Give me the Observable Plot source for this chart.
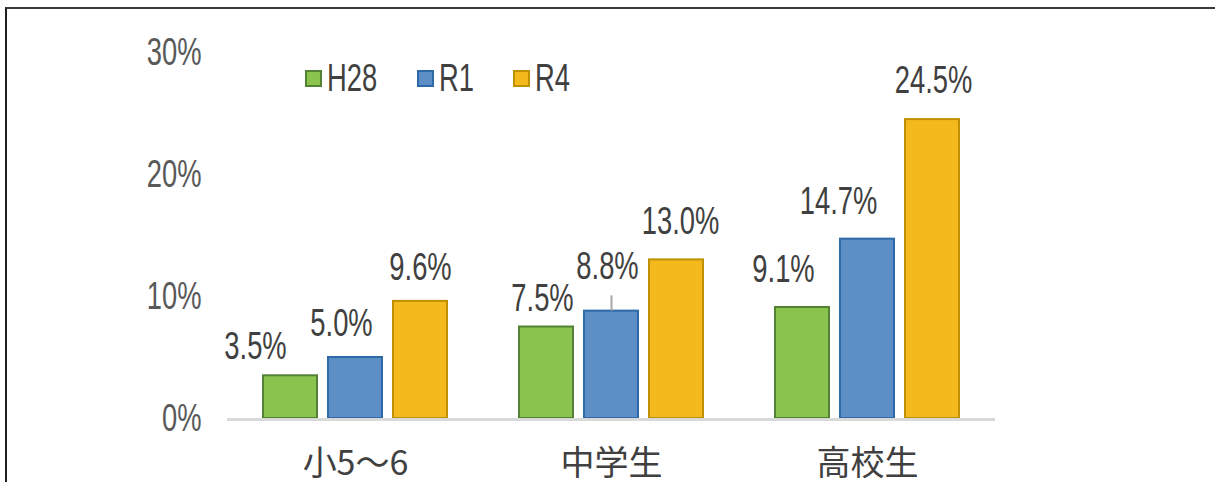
<!DOCTYPE html>
<html><head><meta charset="utf-8">
<script src="https://cdn.jsdelivr.net/npm/d3@7"></script>
<script src="https://cdn.jsdelivr.net/npm/@observablehq/plot@0.6"></script>
<style>
html,body{margin:0;padding:0;background:#fff;overflow:hidden}
#wrap{position:relative;width:1215px;height:482px}
#frame{position:absolute;left:5px;top:7px;width:1210px;height:480px;border-top:2px solid #3a3a3a;border-left:2px solid #231f20;box-sizing:border-box;pointer-events:none}
#legend{position:absolute;top:58px;left:305px;display:flex;align-items:center;font-family:"Liberation Sans",Arial,sans-serif;font-size:38px;color:#404040;line-height:40px}
.item{display:flex;align-items:center}
.sw{width:13px;height:13px;border:2px solid;margin-right:5px;flex:none}
.lab{display:inline-block;transform:scaleX(0.72);transform-origin:left center}
</style>
</head><body>
<div id="wrap"><div id="chart"></div><div id="legend"></div><div id="frame"></div></div>
<script>
// ---- data ----
const groups = ["小5～6", "中学生", "高校生"];
const seriesNames = ["H28", "R1", "R4"];
const valuesH28 = [3.5, 7.5, 9.1];
const valuesR1 = [5.0, 8.8, 14.7];
const valuesR4 = [9.6, 13.0, 24.5];
const yTicks = [0, 10, 20, 30];

// ---- styles ----
const fills = ["#8bc34f", "#5b8fc6", "#f3b91d"];
const strokes = ["#548235", "#2e6aa8", "#bf9000"];
// label nudges (px) relative to bar top, per series per group
const labelDx = [[-35, -4, -19], [-14, -4, -29], [0, 4, 1]];
const labelDy = [[-29, -28, -38], [-34, -44, -37], [-34, -38, -39]];
const latinFont = '"Liberation Sans",Arial,sans-serif';
const cjkFont = '"Noto Sans CJK JP",sans-serif';
const squeeze = 0.72;

const seriesValues = [valuesH28, valuesR1, valuesR4];
const data = [];
groups.forEach((g, gi) => seriesNames.forEach((s, si) =>
  data.push({group: g, series: s, value: seriesValues[si][gi], gi, si})));

const labelMarks = data.map(d => Plot.text([d], {
  fx: "group", x: "series", y: "value",
  text: v => v.value.toFixed(1) + "%",
  dx: labelDx[d.si][d.gi], dy: labelDy[d.si][d.gi],
  fontSize: 38, fill: "#404040", fontFamily: latinFont
}));

const leader = data.filter(d => d.series === "R1" && d.group === "中学生");

const chart = Plot.plot({
  width: 1215, height: 482,
  marginLeft: 227, marginRight: 220, marginTop: 52, marginBottom: 64,
  style: {fontFamily: cjkFont, background: "transparent"},
  fx: {domain: groups, padding: 0, label: null},
  x: {domain: seriesNames, paddingInner: 0.137, paddingOuter: 0.52, axis: null},
  y: {domain: [0, 30], axis: null},
  marks: [
    ...seriesNames.map((s, si) => Plot.barY(data.filter(d => d.series === s), {
      fx: "group", x: "series", y: "value",
      fill: fills[si], stroke: strokes[si], strokeWidth: 2, insetLeft: 1, insetRight: 1
    })),
    Plot.ruleY([0], {stroke: "#d9d9d9", strokeWidth: 3, dy: 1}),
    Plot.ruleX(leader, {fx: "group", x: "series", y1: "value", y2: d => d.value + 1.25, stroke: "#a6a6a6", strokeWidth: 2}),
    ...labelMarks,
    Plot.axisY({ticks: yTicks, tickFormat: d => d + "%", tickSize: 0, tickPadding: 26, fontSize: 38, color: "#595959", label: null, fontFamily: latinFont}),
    Plot.axisFx({anchor: "bottom", tickSize: 0, tickPadding: 32, fontSize: 34, color: "#404040", label: null})
  ]
});
// condense the Latin (numeric) texts horizontally around their anchors
chart.querySelectorAll("text").forEach(t => {
  if (/^[\x00-\x7F]+$/.test(t.textContent)) {
    const tr = t.getAttribute("transform") || "";
    t.setAttribute("transform", tr + ` scale(${squeeze},1)`);
  }
});
document.getElementById("chart").appendChild(chart);

const legend = document.getElementById("legend");
seriesNames.forEach((s, si) => {
  const item = document.createElement("div");
  item.className = "item";
  item.style.marginRight = si === 0 ? "37px" : "41px";
  item.style.width = si === 0 ? "75px" : "55px";
  const sw = document.createElement("div");
  sw.className = "sw";
  sw.style.background = fills[si];
  sw.style.borderColor = strokes[si];
  const t = document.createElement("span");
  t.className = "lab";
  t.textContent = s;
  item.appendChild(sw); item.appendChild(t);
  legend.appendChild(item);
});
</script>
</body></html>
